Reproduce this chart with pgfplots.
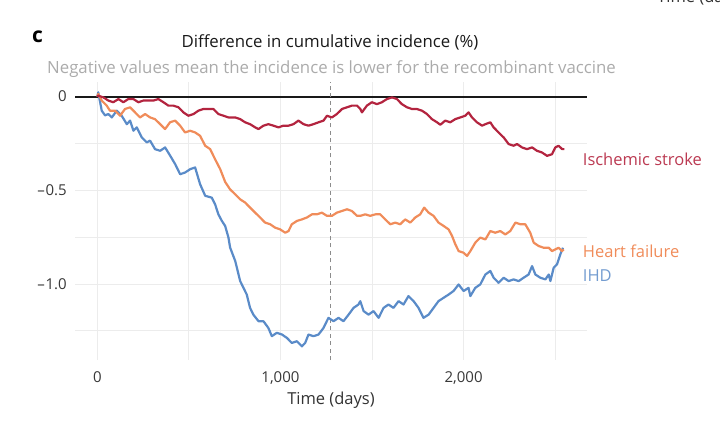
\documentclass[border=0pt]{standalone}
\usepackage{pgfplots}
\usepackage{pgfplotstable}
\pgfplotsset{compat=1.18}
\usepackage{fontspec}
\setmainfont{Open Sans}
\definecolor{strokec}{HTML}{B3243F}
\definecolor{hfc}{HTML}{F08C5A}
\definecolor{ihdc}{HTML}{5A8BC8}
\definecolor{gridc}{HTML}{ECECEC}

\pgfplotstableread{
d v
0 0
5 0.023
24 -0.075
42 -0.100
60 -0.093
79 -0.111
106 -0.075
133 -0.102
161 -0.147
179 -0.128
197 -0.182
215 -0.164
243 -0.218
270 -0.244
288 -0.235
315 -0.280
343 -0.289
370 -0.271
397 -0.314
425 -0.360
452 -0.414
479 -0.405
507 -0.387
534 -0.378
561 -0.467
589 -0.529
625 -0.539
643 -0.574
661 -0.628
680 -0.663
698 -0.690
716 -0.752
725 -0.805
753 -0.877
780 -0.984
798 -1.020
816 -1.056
834 -1.127
852 -1.163
880 -1.198
907 -1.198
934 -1.234
953 -1.278
980 -1.260
1008 -1.269
1035 -1.287
1062 -1.314
1090 -1.305
1117 -1.332
1135 -1.314
1153 -1.269
1180 -1.278
1208 -1.269
1235 -1.234
1262 -1.180
1290 -1.198
1317 -1.180
1344 -1.198
1372 -1.163
1399 -1.127
1426 -1.109
1436 -1.091
1454 -1.144
1481 -1.163
1508 -1.144
1536 -1.180
1563 -1.127
1590 -1.109
1617 -1.127
1645 -1.091
1672 -1.109
1699 -1.064
1727 -1.091
1754 -1.127
1781 -1.180
1809 -1.163
1836 -1.127
1863 -1.091
1891 -1.073
1918 -1.056
1945 -1.037
1973 -1.002
2000 -1.037
2027 -1.020
2037 -1.064
2064 -1.020
2091 -1.002
2119 -0.949
2146 -0.930
2164 -0.966
2191 -0.993
2219 -0.966
2246 -0.984
2273 -0.975
2301 -0.984
2328 -0.966
2355 -0.949
2374 -0.904
2392 -0.949
2419 -0.966
2447 -0.975
2465 -0.949
2474 -0.984
2492 -0.913
2510 -0.895
2528 -0.842
2543 -0.806
}\ihdtable

\pgfplotstableread{
d v
0 0
5 0.014
24 -0.021
51 -0.048
69 -0.075
97 -0.075
124 -0.102
151 -0.066
179 -0.057
206 -0.084
233 -0.111
261 -0.093
288 -0.111
315 -0.120
343 -0.147
370 -0.173
397 -0.137
425 -0.128
452 -0.155
479 -0.191
507 -0.182
534 -0.191
561 -0.209
589 -0.262
616 -0.280
643 -0.334
671 -0.387
698 -0.455
725 -0.495
753 -0.521
780 -0.548
807 -0.565
834 -0.592
862 -0.619
889 -0.645
916 -0.672
944 -0.681
971 -0.699
998 -0.708
1026 -0.726
1044 -0.717
1062 -0.681
1090 -0.663
1117 -0.655
1144 -0.645
1172 -0.628
1199 -0.628
1226 -0.619
1254 -0.636
1281 -0.636
1308 -0.619
1336 -0.610
1363 -0.601
1390 -0.610
1418 -0.636
1436 -0.636
1463 -0.628
1490 -0.636
1518 -0.628
1545 -0.628
1572 -0.655
1600 -0.681
1627 -0.672
1654 -0.681
1681 -0.655
1709 -0.672
1736 -0.645
1763 -0.628
1785 -0.592
1809 -0.619
1836 -0.636
1863 -0.672
1891 -0.690
1918 -0.708
1937 -0.743
1955 -0.788
1973 -0.824
2000 -0.833
2019 -0.850
2037 -0.824
2064 -0.779
2091 -0.752
2119 -0.762
2146 -0.717
2173 -0.726
2200 -0.717
2228 -0.735
2255 -0.717
2283 -0.672
2310 -0.681
2337 -0.681
2364 -0.726
2383 -0.779
2410 -0.797
2437 -0.806
2465 -0.806
2483 -0.824
2501 -0.815
2519 -0.806
2538 -0.824
2547 -0.815
}\hftable

\pgfplotstableread{
d v
0 0
5 0.005
33 -0.004
60 -0.021
87 -0.030
115 -0.013
142 -0.030
169 -0.013
197 -0.013
224 -0.030
251 -0.021
279 -0.021
306 -0.021
333 -0.013
361 -0.030
388 -0.048
415 -0.048
443 -0.057
470 -0.084
497 -0.102
525 -0.093
552 -0.075
579 -0.066
607 -0.066
634 -0.066
661 -0.093
689 -0.102
716 -0.111
753 -0.111
780 -0.120
807 -0.137
834 -0.147
862 -0.164
880 -0.173
907 -0.155
934 -0.147
962 -0.155
989 -0.164
1016 -0.155
1044 -0.155
1071 -0.147
1098 -0.128
1126 -0.147
1153 -0.155
1180 -0.147
1208 -0.137
1235 -0.128
1254 -0.102
1281 -0.111
1308 -0.093
1336 -0.066
1363 -0.057
1390 -0.048
1418 -0.048
1436 -0.066
1445 -0.084
1472 -0.048
1499 -0.030
1527 -0.040
1554 -0.030
1581 -0.013
1609 -0.004
1636 -0.013
1663 -0.040
1691 -0.057
1718 -0.066
1745 -0.066
1773 -0.075
1800 -0.093
1827 -0.120
1855 -0.137
1873 -0.150
1900 -0.128
1927 -0.137
1955 -0.120
1982 -0.111
2009 -0.102
2027 -0.084
2046 -0.111
2073 -0.137
2101 -0.155
2119 -0.147
2146 -0.137
2164 -0.164
2191 -0.191
2219 -0.218
2246 -0.253
2273 -0.262
2292 -0.253
2319 -0.271
2346 -0.280
2374 -0.271
2401 -0.289
2428 -0.298
2456 -0.316
2483 -0.307
2501 -0.271
2519 -0.262
2538 -0.280
2550 -0.280
}\stroketable

\begin{document}
\begin{tikzpicture}[x=1pt,y=1pt]
\useasboundingbox (0,0) rectangle (720,426);
\begin{axis}[
  at={(75pt,66pt)}, anchor=south west,
  scale only axis, width=512pt, height=278pt,
  xmin=-122, xmax=2674, ymin=-1.405, ymax=0.078,
  axis line style={draw=none},
  tick style={draw=none},
  xtick={0,500,1000,1500,2000,2500},
  xticklabels={0,,{1,000},,{2,000},},
  ytick={-1.25,-1,-0.75,-0.5,-0.25,0},
  yticklabels={,{–\kern0.8pt1.0},,{–\kern0.8pt0.5},,0},
  grid=major,
  major grid style={gridc, line width=0.9pt},
  ticklabel style={font=\fontsize{15}{17}\selectfont, text=black!78},
  xticklabel style={anchor=north, inner sep=0pt, yshift=-11.5pt},
  yticklabel style={anchor=east, inner sep=0pt, xshift=-8pt},
  clip=false,
]
\addplot[black!90, line width=1.8pt] coordinates {(-122,0) (2674,0)};
\addplot[black!45, line width=1.1pt, dash pattern=on 4pt off 3.5pt] coordinates {(1272,-1.405) (1272,0.078)};
\addplot[ihdc, line width=2.2pt, line join=round] table[x=d,y=v] {\ihdtable};
\addplot[hfc, line width=2.2pt, line join=round] table[x=d,y=v] {\hftable};
\addplot[strokec, line width=2.2pt, line join=round] table[x=d,y=v] {\stroketable};
\end{axis}
\node[anchor=base west, inner sep=0pt, font=\fontsize{21}{22}\selectfont\bfseries] at (32,383) {c};
\node[anchor=base, inner sep=0pt, font=\fontsize{16.8}{18}\selectfont, text=black!90] at (330,378.7) {Difference in cumulative incidence (\%)};
\node[anchor=base, inner sep=0pt, font=\fontsize{16.8}{18}\selectfont, text=black!33] at (331.5,352.7) {Negative values mean the incidence is lower for the recombinant vaccine};
\node[anchor=base, inner sep=0pt, font=\fontsize{16.5}{18}\selectfont, text=black!80] at (331,22) {Time (days)};
\node[anchor=base west, inner sep=0pt, font=\fontsize{16.5}{18}\selectfont, text=black!80] at (657,423) {Time (days)};
\node[anchor=base west, inner sep=0pt, font=\fontsize{16.5}{18}\selectfont, text=strokec!90] at (582.7,260.7) {Ischemic stroke};
\node[anchor=base west, inner sep=0pt, font=\fontsize{16.5}{18}\selectfont, text=hfc] at (582.7,168) {Heart failure};
\node[anchor=base west, inner sep=0pt, font=\fontsize{16.5}{18}\selectfont, text=ihdc!85] at (582.7,144) {IHD};
\end{tikzpicture}
\end{document}
